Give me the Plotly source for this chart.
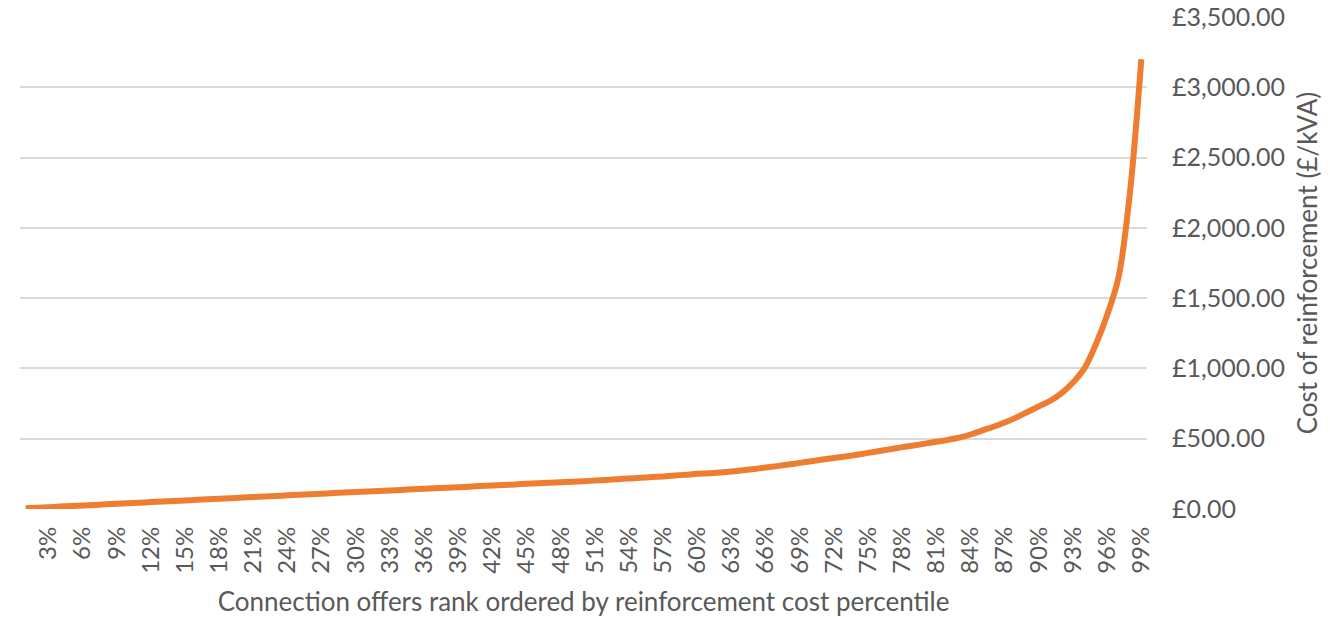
import plotly.graph_objects as go

percentiles = list(range(1, 100))
cost_per_kva = [
    5, 9, 13, 17, 21, 25, 29, 33, 37, 41,
    45, 49, 53, 57, 61, 65, 69, 73, 77, 81,
    85, 89, 93, 97, 101, 105, 109, 113, 117, 121,
    124, 128, 132, 136, 140, 144, 148, 152, 155, 159,
    163, 167, 171, 175, 179, 183, 186, 190, 194, 198,
    202, 207, 212, 217, 222, 227, 232, 238, 244, 250,
    254, 260, 267, 276, 285, 295, 305, 316, 328, 340,
    352, 363, 374, 386, 399, 413, 426, 440, 452, 465,
    478, 492, 508, 530, 558, 585, 615, 650, 690, 730,
    770, 825, 900, 1000, 1170, 1380, 1650, 2250, 3200,
]
tick_values = list(range(3, 100, 3))
tick_labels = [f"{p}%" for p in tick_values]
y_ticks = [0, 500, 1000, 1500, 2000, 2500, 3000, 3500]
y_tick_labels = ["£0.00", "£500.00", "£1,000.00", "£1,500.00",
                 "£2,000.00", "£2,500.00", "£3,000.00", "£3,500.00"]

x_title = "Connection offers rank ordered by reinforcement cost percentile"
y_title = "Cost of reinforcement (£/kVA)"

FONT = "Lato, Open Sans, sans-serif"
GREY = "#595959"

fig = go.Figure()
fig.add_trace(go.Scatter(
    x=percentiles, y=cost_per_kva, mode="lines",
    line=dict(color="#ED7D31", width=6, shape="spline", smoothing=1.0),
    hoverinfo="x+y", showlegend=False,
))

fig.update_layout(
    width=1330, height=617,
    margin=dict(l=20, r=183, t=17, b=108),
    paper_bgcolor="white", plot_bgcolor="white",
    font=dict(family=FONT, color=GREY, size=24),
    xaxis=dict(
        range=[0.5, 99.5], tickmode="array", tickvals=tick_values, ticktext=tick_labels,
        tickangle=-90, showgrid=False, zeroline=False, showline=False,
        ticks="", ticklabelstandoff=12, automargin=False,
        tickfont=dict(family=FONT, size=24, color=GREY),
        title=dict(text=x_title, font=dict(family=FONT, size=26, color=GREY), standoff=20),
    ),
    yaxis=dict(
        side="right", range=[0, 3500], tickmode="array", tickvals=y_ticks,
        ticktext=y_tick_labels, automargin=False,
        showgrid=True, gridcolor="#d9d9d9", gridwidth=2,
        zeroline=False, showline=False, ticks="", ticklabelstandoff=24,
        tickfont=dict(family=FONT, size=25, color=GREY),
        title=dict(text=y_title, font=dict(family=FONT, size=26, color=GREY), standoff=14),
    ),
)
fig.write_html("out.html")
